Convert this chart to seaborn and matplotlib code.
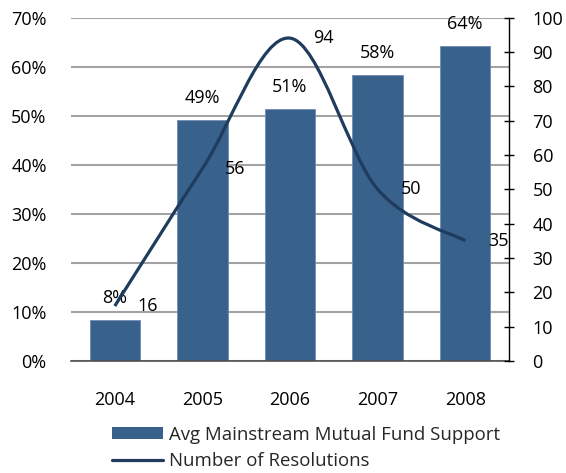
import matplotlib
matplotlib.use('Agg')
import matplotlib.pyplot as plt
import seaborn as sns
import pandas as pd
from matplotlib.path import Path
from matplotlib.patches import PathPatch, Patch
from matplotlib.lines import Line2D
from matplotlib.ticker import PercentFormatter, MultipleLocator

# data
years = ['2004', '2005', '2006', '2007', '2008']
fund_support = [8.4, 49.1, 51.4, 58.3, 64.2]      # % (left axis)
resolutions = [16, 56, 94, 50, 35]                # count (right axis)

sns.set_theme(style='white')
plt.rcParams['font.family'] = ['Open Sans', 'DejaVu Sans']

bar_color = '#38618C'
line_color = '#1F3B5E'
grid_color = '#A3A3A3'
fs = 13
legend_fs = 13.4

df = pd.DataFrame({'year': years, 'support': fund_support, 'resolutions': resolutions})

fig = plt.figure(figsize=(5.66, 4.73), dpi=100)
ax = fig.add_axes([0.1254, 0.2368, 0.7739, 0.7262])

sns.barplot(data=df, x='year', y='support', color=bar_color, saturation=1,
            width=0.575, edgecolor='#6F8DB3', linewidth=0.6, ax=ax)
ax.set_xlim(-0.5, len(years) - 0.5)
ax.set_ylim(0, 70)
ax.yaxis.set_major_locator(MultipleLocator(10))
ax.yaxis.set_major_formatter(PercentFormatter(100, decimals=0))
ax.yaxis.grid(True, color=grid_color, linewidth=1.5)
ax.set_axisbelow(True)
ax.set_xlabel('')
ax.set_ylabel('')
for s in ['top', 'left', 'right']:
    ax.spines[s].set_visible(False)
ax.spines['bottom'].set_color('#505050')
ax.spines['bottom'].set_linewidth(1.2)
ax.tick_params(axis='x', length=0, pad=21.5, labelsize=fs, colors='black')
ax.tick_params(axis='y', length=0, pad=17.5, labelsize=fs, colors='black')

for i, v in enumerate(fund_support):
    ax.annotate(f'{v:.0f}%', (i, v), xytext=(0, 16), textcoords='offset points',
                ha='center', va='center', fontsize=fs, color='black')

# right axis with smoothed resolutions line
ax2 = ax.twinx()
ax2.set_ylim(0, 100)
ax2.yaxis.set_major_locator(MultipleLocator(10))
for s in ['top', 'left', 'bottom']:
    ax2.spines[s].set_visible(False)
ax2.spines['right'].set_color('black')
ax2.spines['right'].set_linewidth(1)
ax2.tick_params(axis='y', direction='inout', length=7, width=1, pad=13.5,
                labelsize=fs, colors='black')
ax2.set_ylabel('')

# Excel-style smoothed line: cubic bezier segments through the data points
pts = list(zip(range(len(years)), resolutions))
verts = [pts[0]]
codes = [Path.MOVETO]
for k in range(len(pts) - 1):
    p0 = pts[k - 1] if k > 0 else pts[k]
    p1 = pts[k]
    p2 = pts[k + 1]
    p3 = pts[k + 2] if k + 2 < len(pts) else pts[k + 1]
    c1 = (p1[0] + (p2[0] - p0[0]) / 6, p1[1] + (p2[1] - p0[1]) / 6)
    c2 = (p2[0] - (p3[0] - p1[0]) / 6, p2[1] - (p3[1] - p1[1]) / 6)
    verts += [c1, c2, p2]
    codes += [Path.CURVE4] * 3
ax2.add_patch(PathPatch(Path(verts, codes), facecolor='none', edgecolor=line_color,
                        linewidth=2.3, capstyle='butt'))

for i, v in enumerate(resolutions):
    ax2.annotate(f'{v}', (i, v), xytext=(16.5, 0), textcoords='offset points',
                 ha='left', va='center', fontsize=fs, color='black')

handles = [Patch(facecolor=bar_color, edgecolor='none'),
           Line2D([0], [0], color=line_color, linewidth=2.3)]
fig.legend(handles, ['Avg Mainstream Mutual Fund Support', 'Number of Resolutions'],
           loc='upper left', bbox_to_anchor=(112 / 566, 1 - 425.5 / 473),
           frameon=False, fontsize=legend_fs, handlelength=2.74, handleheight=0.63,
           handletextpad=0.32, labelspacing=0.45, borderpad=0, borderaxespad=0)

fig.savefig('out.png', dpi=100)
